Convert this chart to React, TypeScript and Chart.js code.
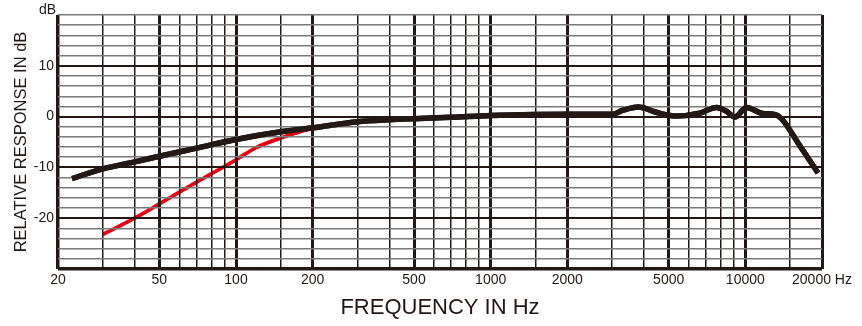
import React, { useEffect, useRef } from 'react';
import { Chart, registerables } from 'chart.js';

Chart.register(...registerables);

// ---- data ----
const responseFreq = [22.7, 30, 40, 50, 70, 100, 150, 200, 300, 400, 500, 700, 1000, 1500, 2000, 3000, 3300, 3800, 4500, 5400, 6600, 7700, 8400, 9100, 10100, 11700, 12900, 13800, 16400, 19300];
const responseDb = [-12.2, -10.3, -8.9, -7.8, -6.2, -4.5, -3.0, -2.2, -1.0, -0.6, -0.4, -0.15, 0.2, 0.4, 0.45, 0.45, 1.25, 1.9, 0.8, 0.1, 0.65, 1.8, 1.1, -0.1, 1.8, 0.6, 0.45, -0.3, -5.8, -11.1];

const lowCutFreq = [30, 40, 50, 70, 100, 120, 150, 180, 200];
const lowCutDb = [-23.2, -20.0, -17.2, -12.9, -8.5, -6.1, -4.2, -2.9, -2.3];

const xGridValues = [20, 30, 40, 50, 60, 70, 80, 90, 100, 150, 200, 300, 400, 500, 600, 700, 800, 900, 1000, 1500, 2000, 3000, 4000, 5000, 6000, 7000, 8000, 9000, 10000, 15000, 20000];
const xMajorValues = [20, 50, 100, 200, 500, 1000, 2000, 5000, 10000, 20000];
const xTickLabels = ['20', '50', '100', '200', '500', '1000', '2000', '5000', '10000', '20000 Hz'];

const yGridValues = [-30, -28, -26, -24, -22, -20, -18, -16, -14, -12, -10, -8, -6, -4, -2, 0, 2, 4, 6, 8, 10, 12, 14, 16, 18, 20];
const yTickValues = [-20, -10, 0, 10];
const yTickLabels = ['-20', '-10', '0', '10'];
const yUnitLabel = 'dB';

const xTitle = 'FREQUENCY IN Hz';
const yTitle = 'RELATIVE RESPONSE IN dB';

const INK = '#231815';
const GREY = '#7a7a7a';
const RED = '#e60012';
const FONT = "'Liberation Sans', Arial, Helvetica, sans-serif";

export default function App() {
  const canvasRef = useRef<HTMLCanvasElement | null>(null);

  useEffect(() => {
    document.body.style.margin = '0';
    const canvas = canvasRef.current;
    if (!canvas) return;

    const blackOnTop = {
      id: 'blackOnTop',
      afterDraw(chart: any) {
        const meta = chart.getDatasetMeta(1);
        const ctx = chart.ctx;
        const a = chart.chartArea;
        ctx.save();
        ctx.beginPath();
        ctx.rect(a.left - 6, a.top - 6, a.right - a.left + 12, a.bottom - a.top + 12);
        ctx.clip();
        meta.controller.draw();
        ctx.restore();
        // unit label at the top of the y axis
        ctx.save();
        ctx.fillStyle = INK;
        ctx.font = `14px ${FONT}`;
        ctx.textAlign = 'right';
        ctx.textBaseline = 'middle';
        ctx.fillText(yUnitLabel, a.left - 2, a.top - 5);
        ctx.restore();
      },
    };

    const chart = new Chart(canvas, {
      type: 'line',
      data: {
        datasets: [
          {
            label: 'low cut',
            data: lowCutFreq.map((f, i) => ({ x: f, y: lowCutDb[i] })),
            borderColor: RED,
            borderWidth: 3.8,
            pointRadius: 0,
            cubicInterpolationMode: 'monotone',
            borderCapStyle: 'butt',
          },
          {
            label: 'response',
            data: responseFreq.map((f, i) => ({ x: f, y: responseDb[i] })),
            borderColor: INK,
            borderWidth: 5.5,
            pointRadius: 0,
            cubicInterpolationMode: 'monotone',
            borderCapStyle: 'butt',
            borderJoinStyle: 'round',
          },
        ],
      },
      options: {
        animation: false,
        responsive: true,
        maintainAspectRatio: false,
        layout: { padding: { left: 0, top: 15, right: 40, bottom: 0 } },
        plugins: { legend: { display: false }, tooltip: { enabled: false } },
        scales: {
          x: {
            type: 'logarithmic',
            min: 20,
            max: 20000,
            afterBuildTicks: (scale: any) => {
              scale.ticks = xGridValues.map((v) => ({ value: v }));
            },
            afterFit: (scale: any) => {
              scale.height = 57;
            },
            border: { display: false },
            grid: {
              z: 1,
              drawTicks: false,
              color: INK,
              lineWidth: (ctx: any) => {
                const v = ctx.tick ? ctx.tick.value : 0;
                if (v === 20) return 3.5;
                if (v === 20000) return 3;
                return xMajorValues.includes(v) ? 3 : 1.5;
              },
            },
            ticks: {
              autoSkip: false,
              maxRotation: 0,
              minRotation: 0,
              padding: 3,
              color: INK,
              font: { family: FONT, size: 14 },
              callback: (value: any) => {
                const idx = xMajorValues.indexOf(Number(value));
                return idx >= 0 ? xTickLabels[idx] : '';
              },
            },
            title: {
              display: true,
              text: xTitle,
              color: INK,
              font: { family: FONT, size: 22 },
              padding: { top: 0, bottom: 5 },
            },
          },
          y: {
            type: 'linear',
            min: -30,
            max: 20,
            afterBuildTicks: (scale: any) => {
              scale.ticks = yGridValues.map((v) => ({ value: v }));
            },
            afterFit: (scale: any) => {
              scale.width = 58;
            },
            border: { display: false },
            grid: {
              z: 1,
              drawTicks: false,
              color: (ctx: any) => {
                const v = ctx.tick ? ctx.tick.value : 0;
                if (v === 20) return GREY;
                return v % 10 === 0 ? INK : GREY;
              },
              lineWidth: (ctx: any) => {
                const v = ctx.tick ? ctx.tick.value : 0;
                if (v === -30) return 3.5;
                if (v === 20) return 1.5;
                return v % 10 === 0 ? 2 : 1.5;
              },
            },
            ticks: {
              autoSkip: false,
              padding: 4,
              color: INK,
              font: { family: FONT, size: 14 },
              callback: (value: any) => {
                const idx = yTickValues.indexOf(Number(value));
                return idx >= 0 ? yTickLabels[idx] : '';
              },
            },
            title: {
              display: true,
              text: yTitle,
              color: INK,
              font: { family: FONT, size: 16.5 },
              padding: { top: 12, bottom: 0 },
            },
          },
        },
      },
      plugins: [blackOnTop],
    } as any);

    return () => {
      chart.destroy();
    };
  }, []);

  return (
    <div style={{ width: '862px', height: '326px', position: 'relative' }}>
      <canvas ref={canvasRef} />
    </div>
  );
}
